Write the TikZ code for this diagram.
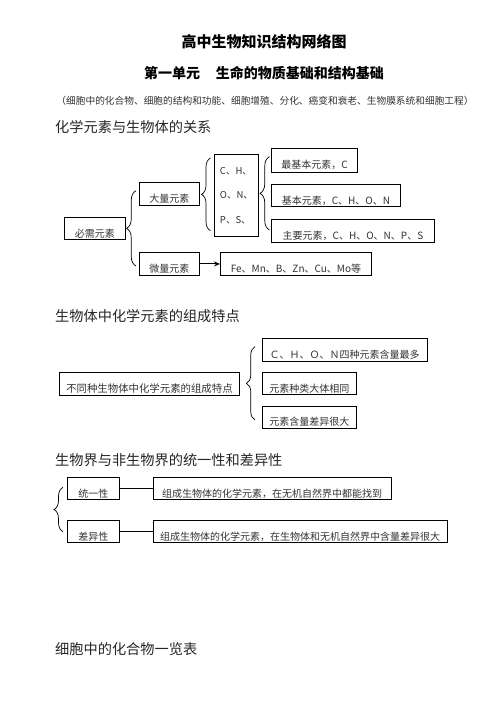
\documentclass[tikz,border=0pt]{standalone}
\usepackage{fontspec}
\setmainfont{Noto Sans CJK SC}
\usetikzlibrary{decorations.pathreplacing,arrows.meta}
\tikzset{
  bx/.style 2 args={draw=black, line width=0.9pt, anchor=north west,
    minimum width=#1pt, minimum height=#2pt, inner xsep=0pt, inner ysep=0pt,
    text height=19.2pt, text depth=2pt, font=\fontsize{10}{12}\selectfont,
    text=black!80},
  heading/.style={anchor=west, inner sep=0pt, font=\fontsize{14.2}{16}\selectfont, text=black!85},
  brc/.style={decorate, decoration={brace, amplitude=#1pt}, line width=0.7pt},
  link/.style={line width=1pt},
}
\begin{document}
\begin{tikzpicture}[x=1pt,y=-1pt]
\useasboundingbox (0,0) rectangle (500,706);
\fill[white] (0,0) rectangle (500,706);

% titles
\node[font=\fontsize{15}{18}\selectfont\bfseries, inner sep=0pt] (title) at (264,42) {高中生物知识结构网络图};
\node[font=\fontsize{14}{17}\selectfont\bfseries, inner sep=0pt] (sub) at (264,73) {第一单元\hspace{16pt}生命的物质基础和结构基础};
\node[font=\fontsize{9.7}{12}\selectfont, inner sep=0pt, text=black!80] (paren) at (265,100.5) {（细胞中的化合物、细胞的结构和功能、细胞增殖、分化、癌变和衰老、生物膜系统和细胞工程）};

% section 1
\node[heading] (h1) at (55,126.7) {化学元素与生物体的关系};
\node[bx={61}{22}] (bixu) at (64,217) {必需元素};
\node[bx={60}{23}] (daliang) at (139,182) {大量元素};
\node[bx={60}{23}] (weiliang) at (139,252) {微量元素};
\node[draw=black, line width=0.9pt, anchor=north west, minimum width=44pt, minimum height=82pt,
      inner sep=0pt, font=\fontsize{9.5}{24.5}\selectfont, text=black!80, align=left] (chon) at (214,154)
      {C、H、\\O、N、\\P、S、};
\node[bx={86}{23.5}] (zuijiben) at (271,148) {最基本元素，C};
\node[bx={129}{22}] (jiben) at (271,184) {基本元素，C、H、O、N};
\node[bx={163}{22.5}] (zhuyao) at (271,219) {主要元素，C、H、O、N、P、S};
\node[bx={151}{23}] (fe) at (220,252) {Fe、Mn、B、Zn、Cu、Mo等};
\draw[link, -{Stealth[length=6pt,width=5pt]}] (weiliang.east) -- (fe.west);

\coordinate (b1s) at (136,266);   \coordinate (b1e) at (136,190.7);
\coordinate (b2s) at (210.5,230.7); \coordinate (b2e) at (210.5,158);
\coordinate (b3s) at (269.5,230); \coordinate (b3e) at (269.5,156.7);
\draw[brc=9.5] (b1s) -- (b1e);
\draw[brc=9] (b2s) -- (b2e);
\draw[brc=9.5] (b3s) -- (b3e);

% section 2
\node[heading] (h2) at (55,316) {生物体中化学元素的组成特点};
\node[bx={180}{23}, font=\fontsize{10.4}{12}\selectfont] (butong) at (59,372) {不同种生物体中化学元素的组成特点};
\node[bx={164.5}{23}] (t1) at (262,338) {Ｃ、Ｈ、Ｏ、Ｎ四种元素含量最多};
\node[bx={94}{22}] (t2) at (262,372) {元素种类大体相同};
\node[bx={94}{21.5}] (t3) at (262,406) {元素含量差异很大};
\coordinate (b4s) at (255,420); \coordinate (b4e) at (255,346.7);
\draw[brc=8.5] (b4s) -- (b4e);

% section 3
\node[heading] (h3) at (55,460) {生物界与非生物界的统一性和差异性};
\node[bx={52}{22}] (tongyi) at (67,477) {统一性};
\node[bx={237.5}{22}] (l1) at (153,477) {组成生物体的化学元素，在无机自然界中都能找到};
\node[bx={52}{22}] (chayi) at (67,520) {差异性};
\node[bx={293.5}{22}] (l2) at (153,520) {组成生物体的化学元素，在生物体和无机自然界中含量差异很大};
\draw[link] (tongyi.east) -- (l1.west);
\draw[link] (chayi.east) -- (l2.west);
\coordinate (b5s) at (63,531.7); \coordinate (b5e) at (63,487.3);
\draw[brc=9] (b5s) -- (b5e);

% section 4
\node[heading] (h4) at (55,649) {细胞中的化合物一览表};
\end{tikzpicture}
\end{document}
